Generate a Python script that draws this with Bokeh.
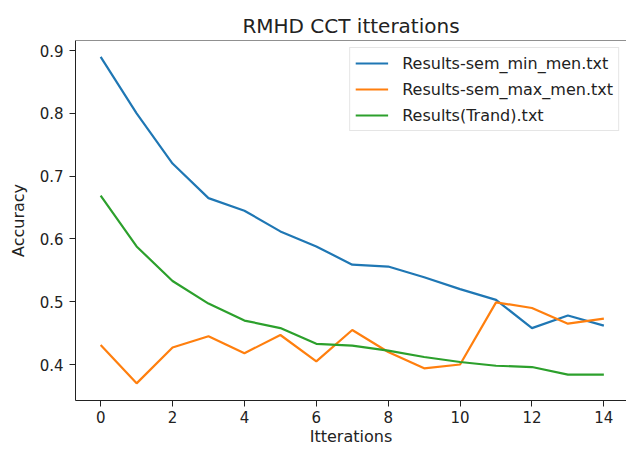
from bokeh.plotting import figure
from bokeh.models import Range1d, FixedTicker, Span, Legend, LegendItem
from bokeh.embed import file_html
from bokeh.resources import INLINE

iterations = list(range(15))
sem_min_men = [0.890, 0.800, 0.720, 0.665, 0.645, 0.612, 0.588, 0.559, 0.556, 0.539, 0.520, 0.503, 0.458, 0.478, 0.462]
sem_max_men = [0.431, 0.370, 0.427, 0.445, 0.418, 0.447, 0.405, 0.455, 0.420, 0.394, 0.400, 0.499, 0.490, 0.465, 0.473]
trand = [0.669, 0.588, 0.533, 0.497, 0.470, 0.458, 0.433, 0.430, 0.422, 0.412, 0.404, 0.398, 0.396, 0.384, 0.384]
labels = ["Results-sem_min_men.txt", "Results-sem_max_men.txt", "Results(Trand).txt"]
colors = ["#1f77b4", "#ff7f0e", "#2ca02c"]
x_ticks = [0, 2, 4, 6, 8, 10, 12, 14]
y_ticks = [0.4, 0.5, 0.6, 0.7, 0.8, 0.9]
x_label = "Itterations"
y_label = "Accuracy"

FONT = "DejaVu Sans"

p = figure(width=626, height=449, output_backend="svg", toolbar_location=None,
           x_range=Range1d(-0.7, 14.63), y_range=Range1d(0.3427, 0.916),
           title="RMHD CCT itterations",
           min_border_left=75, min_border_right=0, min_border_top=40, min_border_bottom=49)

p.title.align = "center"
p.title.text_font = FONT
p.title.text_font_size = "20px"
p.title.text_font_style = "normal"
p.title.text_color = "#222222"
p.title.standoff = 5

p.xgrid.visible = False
p.ygrid.visible = False
p.outline_line_color = None
p.background_fill_color = "white"
p.border_fill_color = "white"

for ax in (p.xaxis[0], p.yaxis[0]):
    ax.axis_line_color = "#222222"
    ax.major_tick_line_color = "#222222"
    ax.major_tick_out = 6
    ax.major_tick_in = 0
    ax.minor_tick_line_color = None
    ax.major_label_text_font = FONT
    ax.major_label_text_font_size = "15px"
    ax.major_label_text_color = "#222222"
    ax.axis_label_text_font = FONT
    ax.axis_label_text_font_size = "16px"
    ax.axis_label_text_font_style = "normal"
    ax.axis_label_text_color = "#222222"

p.xaxis.ticker = FixedTicker(ticks=x_ticks)
p.yaxis.ticker = FixedTicker(ticks=y_ticks)
p.xaxis.axis_label = x_label
p.yaxis.axis_label = y_label
p.xaxis.major_label_standoff = 4
p.xaxis.axis_label_standoff = 1
p.yaxis.major_label_standoff = 6
p.yaxis.axis_label_standoff = 9

top_spine = Span(location=0.916, dimension="width", line_color="#222222", line_width=1)
p.add_layout(top_spine)

items = []
for ys, lab, col in zip([sem_min_men, sem_max_men, trand], labels, colors):
    r = p.line(iterations, ys, line_color=col, line_width=2.2)
    items.append(LegendItem(label=lab, renderers=[r]))

legend = Legend(items=items, location="top_right", margin=7,
                padding=5, spacing=6, label_height=20, glyph_height=20, glyph_width=33,
                label_standoff=14, label_text_font=FONT, label_text_font_size="16px",
                label_text_color="#222222",
                border_line_color="#cccccc", border_line_width=1,
                background_fill_color="white", background_fill_alpha=0.8)
p.add_layout(legend)

open("out.html", "w").write(file_html(p, INLINE))
